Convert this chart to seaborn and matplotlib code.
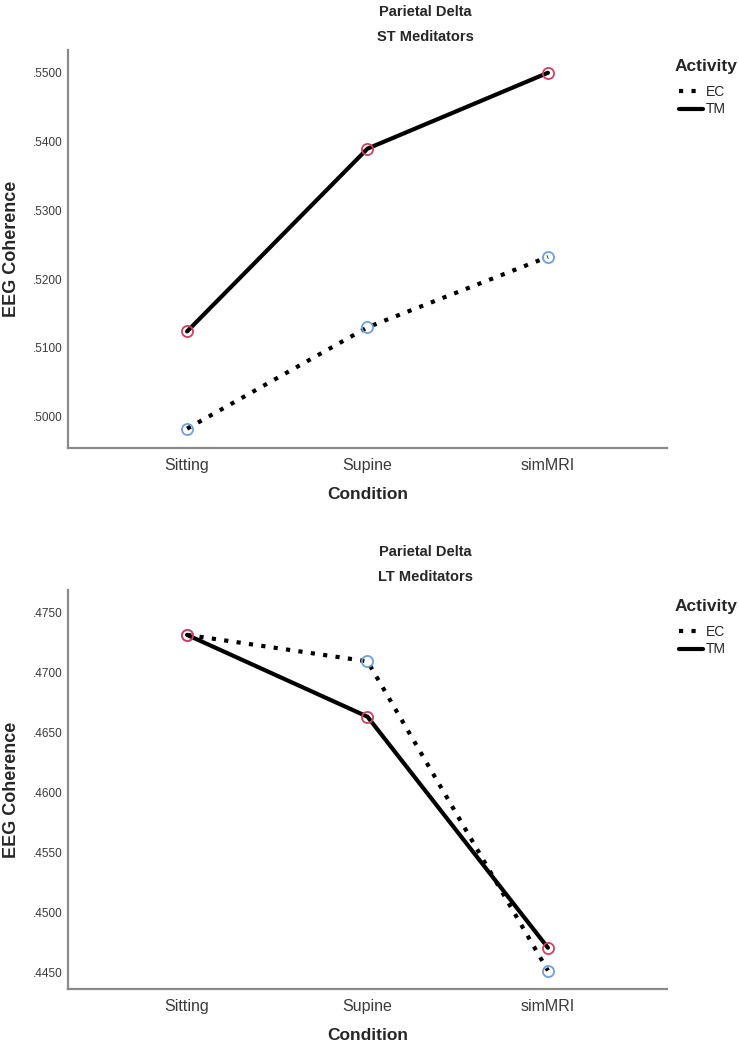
import numpy as np
import pandas as pd
import matplotlib
matplotlib.use("Agg")
import matplotlib.pyplot as plt
from matplotlib.lines import Line2D
from matplotlib.ticker import FuncFormatter
import seaborn as sns

# values
conditions = ["Sitting", "Supine", "simMRI"]
activities = ["EC", "TM"]
st_ec = [0.4983, 0.5130, 0.5232]
st_tm = [0.5124, 0.5389, 0.5499]
lt_ec = [0.4731, 0.4709, 0.4452]
lt_tm = [0.4731, 0.4663, 0.4471]
st_ticks = [0.50, 0.51, 0.52, 0.53, 0.54, 0.55]
lt_ticks = [0.445, 0.450, 0.455, 0.460, 0.465, 0.470, 0.475]

marker_cols = {"EC": "#6fa0dc", "TM": "#d04060"}
line_styles = {"EC": (0, (1, 2)), "TM": "-"}

sns.set_style("white")
plt.rcParams["font.family"] = ["Liberation Sans", "DejaVu Sans"]

fig = plt.figure(figsize=(7.39, 10.51), dpi=100)
W, H = 739, 1051


def make_axes(left, top, right, bottom):
    return fig.add_axes([left / W, 1 - bottom / H, (right - left) / W, (bottom - top) / H])


def draw_panel(ax, ec, tm, ylim, ticks, group, top_px):
    df = pd.DataFrame({
        "Condition": conditions * 2,
        "Coherence": ec + tm,
        "Activity": ["EC"] * 3 + ["TM"] * 3,
    })
    for act in activities:
        sub = df[df["Activity"] == act]
        sns.lineplot(data=sub, x="Condition", y="Coherence", ax=ax,
                     color="black", linewidth=3, linestyle=line_styles[act],
                     marker="o", markersize=8, markerfacecolor="none",
                     markeredgecolor=marker_cols[act], markeredgewidth=1.3,
                     sort=False, legend=False)
    ax.set_xlim(-0.66, 2.66)
    ax.set_ylim(*ylim)
    ax.set_yticks(ticks)
    ax.yaxis.set_major_formatter(FuncFormatter(lambda v, p: f"{v:.4f}".lstrip("0")))
    ax.tick_params(axis="y", length=0, pad=4, labelsize=8.5, labelcolor="#3a3a3a")
    ax.tick_params(axis="x", length=0, pad=7, labelsize=11.5, labelcolor="#3a3a3a")
    for s in ["top", "right"]:
        ax.spines[s].set_visible(False)
    for s in ["left", "bottom"]:
        ax.spines[s].set_color("#8a8a8a")
        ax.spines[s].set_linewidth(1.6)
    ax.set_xlabel("Condition", fontsize=12.5, fontweight="bold", labelpad=10)
    ax.set_ylabel("EEG Coherence", fontsize=13, fontweight="bold", labelpad=9)

    fig.text(425 / W, 1 - (top_px - 38) / H, "Parietal Delta", ha="center", va="center",
             fontsize=10.5, fontweight="bold")
    fig.text(425 / W, 1 - (top_px - 13) / H, group, ha="center", va="center",
             fontsize=10.5, fontweight="bold")

    # legend title drawn on its own so the gap below it matches SPSS
    fig.text(675 / W, 1 - (top_px + 17) / H, "Activity", ha="left", va="center",
             fontsize=12.5, fontweight="bold")
    handles = [Line2D([], [], color="black", lw=3, linestyle=line_styles[a]) for a in activities]
    fig.legend(handles, activities, loc="upper left",
               bbox_to_anchor=(679 / W, 1 - (top_px + 35) / H), frameon=False,
               fontsize=10, handlelength=1.7, handletextpad=0.25,
               labelspacing=0.25, borderaxespad=0, borderpad=0)


ax1 = make_axes(68, 50, 667, 448)
draw_panel(ax1, st_ec, st_tm, (0.4955, 0.5532), st_ticks, "ST Meditators", 50)

ax2 = make_axes(68, 590, 667, 989)
draw_panel(ax2, lt_ec, lt_tm, (0.44367, 0.47683), lt_ticks, "LT Meditators", 590)

fig.savefig("out.png", dpi=100)
